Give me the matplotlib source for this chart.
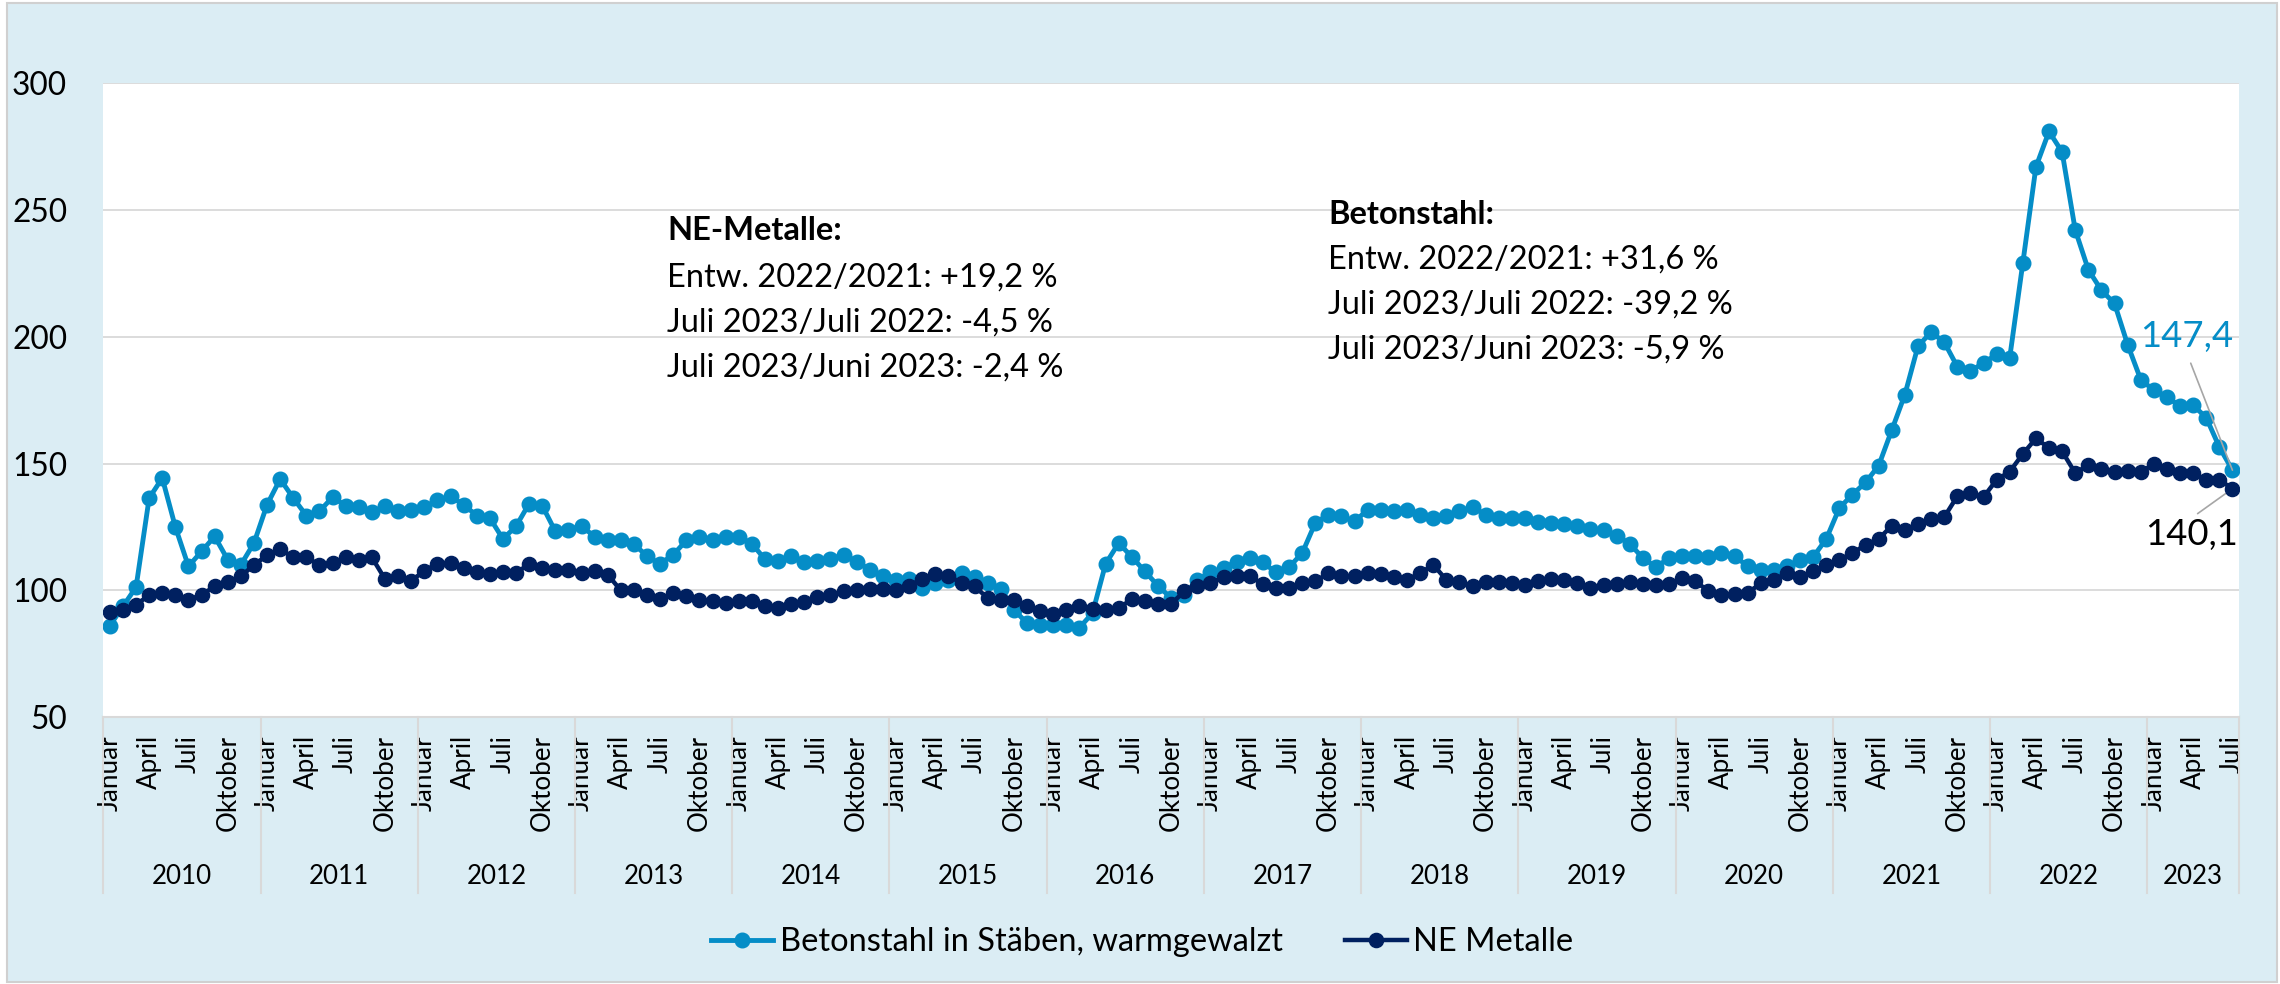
import numpy as np
import matplotlib
matplotlib.use("Agg")
import matplotlib.pyplot as plt
import matplotlib.transforms as mtransforms
from matplotlib.patches import Rectangle

plt.rcParams['font.family'] = ['Lato', 'DejaVu Sans']

# Monatswerte Januar 2010 bis Juli 2023
years = [str(y) for y in range(2010, 2024)]
month_names = ['Januar', 'April', 'Juli', 'Oktober']

betonstahl = [
    86.1, 93.7, 101.3, 136.4, 144.3, 125.0, 109.5, 115.4, 121.3, 112.1, 110.1, 118.7,   # 2010
    133.8, 143.9, 136.4, 129.5, 131.2, 136.8, 133.4, 132.9, 130.8, 133.2, 131.2, 131.8,  # 2011
    132.7, 135.6, 137.1, 133.8, 129.5, 128.6, 120.3, 125.3, 134.2, 133.4, 123.3, 123.9,  # 2012
    125.5, 121.1, 120.0, 120.0, 118.4, 113.4, 110.5, 114.1, 119.7, 121.1, 120.0, 121.1,  # 2013
    121.2, 118.4, 112.3, 111.8, 113.4, 111.1, 111.7, 112.4, 114.1, 111.4, 108.2, 105.5,  # 2014
    104.2, 104.6, 100.9, 102.9, 104.2, 106.8, 105.3, 102.9, 100.5, 92.4, 87.1, 86.4,     # 2015
    86.4, 86.2, 85.3, 91.1, 110.5, 118.7, 113.2, 107.5, 101.8, 97.0, 98.3, 104.2,        # 2016
    107.1, 108.8, 111.4, 112.8, 111.1, 107.1, 109.2, 114.7, 126.6, 129.9, 129.2, 127.2,  # 2017
    131.8, 131.8, 131.5, 131.6, 129.9, 128.6, 129.5, 131.2, 132.9, 129.9, 128.6, 128.6,  # 2018
    128.6, 126.8, 126.6, 126.3, 125.5, 124.2, 123.7, 121.6, 118.4, 112.8, 109.2, 112.8,  # 2019
    113.7, 113.7, 113.3, 114.7, 113.4, 109.7, 108.2, 107.9, 109.5, 112.1, 113.2, 120.3,  # 2020
    132.5, 137.8, 142.6, 149.2, 163.2, 177.2, 196.3, 201.8, 197.9, 188.2, 186.4, 189.7,  # 2021
    193.0, 191.7, 229.0, 266.9, 280.9, 272.8, 242.1, 226.4, 218.3, 213.1, 196.9, 183.1,  # 2022
    178.9, 176.1, 172.8, 173.0, 168.1, 156.5, 147.4,                                     # 2023
]

ne_metalle = [
    91.4, 92.4, 94.2, 98.3, 98.9, 98.3, 96.3, 98.3, 101.6, 103.2, 105.5, 110.1,          # 2010
    113.8, 116.3, 113.0, 113.0, 110.1, 110.8, 113.0, 112.1, 113.0, 104.5, 105.5, 103.8,  # 2011
    107.7, 110.6, 110.8, 108.8, 107.1, 106.6, 107.1, 106.8, 110.5, 108.8, 107.9, 108.2,  # 2012
    106.8, 107.5, 106.2, 100.0, 100.3, 98.3, 96.6, 98.9, 97.9, 96.3, 95.7, 95.0,         # 2013
    95.9, 95.7, 93.7, 93.0, 94.7, 95.3, 97.6, 98.3, 99.6, 100.3, 100.5, 100.5,           # 2014
    100.0, 101.8, 104.6, 106.6, 105.8, 102.9, 101.6, 97.0, 96.3, 96.3, 93.7, 91.7,       # 2015
    90.8, 92.2, 93.9, 92.6, 92.4, 93.0, 96.6, 95.7, 94.7, 94.7, 99.6, 101.8,             # 2016
    102.9, 105.3, 105.5, 105.5, 102.6, 100.9, 100.9, 102.9, 103.6, 106.8, 105.5, 105.5,  # 2017
    106.8, 106.6, 105.4, 104.2, 106.8, 110.1, 104.2, 103.2, 101.8, 103.2, 103.2, 102.9,  # 2018
    102.2, 103.6, 104.5, 104.2, 102.9, 100.9, 102.2, 102.6, 103.2, 102.6, 102.2, 102.6,  # 2019
    104.9, 103.6, 99.8, 98.3, 98.7, 98.9, 102.9, 104.2, 106.8, 105.3, 107.5, 110.1,      # 2020
    112.1, 114.7, 118.0, 120.3, 125.5, 123.7, 126.3, 128.2, 128.9, 137.1, 138.3, 136.8,  # 2021
    143.6, 146.8, 153.8, 159.9, 156.2, 154.8, 146.3, 149.4, 148.0, 146.6, 147.1, 146.6,  # 2022
    149.9, 147.8, 146.3, 146.3, 143.5, 143.6, 140.1,                                     # 2023
]

label_beton = 'Betonstahl in Stäben, warmgewalzt'
label_ne = 'NE Metalle'

ne_title = 'NE-Metalle:'
ne_lines = ['Entw. 2022/2021: +19,2 %', 'Juli 2023/Juli 2022: -4,5 %', 'Juli 2023/Juni 2023: -2,4 %']
beton_title = 'Betonstahl:'
beton_lines = ['Entw. 2022/2021: +31,6 %', 'Juli 2023/Juli 2022: -39,2 %', 'Juli 2023/Juni 2023: -5,9 %']

C_LIGHT = '#058DC7'
C_DARK = '#002060'
C_BG = '#DBEDF4'
C_GRID = '#D9D9D9'

W, H = 2280, 984
fig = plt.figure(figsize=(W / 100, H / 100), dpi=100, facecolor='white')
fig.add_artist(Rectangle((7 / W, 2 / H), 2270 / W, 979 / H, transform=fig.transFigure,
                         facecolor=C_BG, edgecolor='#D0D0D0', lw=1.5, zorder=-5))

# Plotbereich
ax_left, ax_right, ax_top, ax_bottom = 103.3, 2239, 83, 717.3
ax = fig.add_axes([ax_left / W, 1 - ax_bottom / H, (ax_right - ax_left) / W, (ax_bottom - ax_top) / H])
ax.set_facecolor('white')

n = len(betonstahl)
x = np.arange(n)
ax.plot(x, betonstahl, color=C_LIGHT, lw=3.5, marker='o', ms=10.5, label=label_beton, zorder=3)
ax.plot(x, ne_metalle, color=C_DARK, lw=3.2, marker='o', ms=10.2, label=label_ne, zorder=4)

ax.set_xlim(-0.5, n - 0.5)
ax.set_ylim(50, 300)
ax.set_yticks(range(50, 301, 50))
ax.grid(axis='y', color=C_GRID, lw=1.3, zorder=0)
ax.set_axisbelow(True)
for side in ['top', 'left', 'right']:
    ax.spines[side].set_visible(False)
ax.spines['bottom'].set_color(C_GRID)
ax.spines['bottom'].set_linewidth(1.5)
ax.tick_params(axis='y', length=0, pad=26, labelsize=22.8)

# Monatsbeschriftung
ticks = [i for i in range(n) if i % 3 == 0]
ax.set_xticks(ticks)
ax.set_xticklabels([month_names[(i % 12) // 3] for i in ticks], rotation=90, fontsize=18.7)
ax.tick_params(axis='x', length=0, pad=13)

# Jahresgruppen mit Trennlinien
trans = mtransforms.blended_transform_factory(ax.transData, ax.transAxes)
ax_h = ax_bottom - ax_top
bounds = list(range(0, n, 12)) + [n]
for b in bounds:
    ax.plot([b - 0.5, b - 0.5], [0, -(893 - ax_bottom) / ax_h], transform=trans,
            color=C_GRID, lw=1.5, clip_on=False)
for k, yr in enumerate(years):
    start = bounds[k]
    end = bounds[k + 1] - 1
    ax.text((start + end) / 2, -(884 - ax_bottom) / ax_h, yr, transform=trans,
            ha='center', va='baseline', fontsize=18.7)

# Textkästen
fs_txt = 23.5
fig.text(667 / W, 1 - 240.5 / H, ne_title, fontsize=fs_txt, fontweight='bold', va='baseline')
for j, line in enumerate(ne_lines):
    fig.text(667 / W, 1 - (286.5 + 45 * j) / H, line, fontsize=fs_txt, va='baseline')
fig.text(1328 / W, 1 - 224.5 / H, beton_title, fontsize=fs_txt, fontweight='bold', va='baseline')
for j, line in enumerate(beton_lines):
    fig.text(1328 / W, 1 - (268.5 + 45 * j) / H, line, fontsize=fs_txt, va='baseline')

# Datenbeschriftungen letzter Monat
ax.annotate(f'{betonstahl[-1]:.1f}'.replace('.', ','), xy=(n - 1, betonstahl[-1]),
            xytext=(-33, 96.5), textcoords='offset points', ha='center', va='center',
            color=C_LIGHT, fontsize=26.3,
            arrowprops=dict(arrowstyle='-', color='#A6A6A6', lw=1.2, relpos=(0.5, 0),
                            shrinkA=6, shrinkB=0))
ax.annotate(f'{ne_metalle[-1]:.1f}'.replace('.', ','), xy=(n - 1, ne_metalle[-1]),
            xytext=(-29.5, -33), textcoords='offset points', ha='center', va='center',
            color='black', fontsize=26.3,
            arrowprops=dict(arrowstyle='-', color='#A6A6A6', lw=1.2, relpos=(0.5, 1),
                            shrinkA=2, shrinkB=0))

# Legende
fig.legend(loc='center', bbox_to_anchor=(0.501, 1 - 942 / H), ncol=2, frameon=False,
           fontsize=fs_txt, handlelength=1.9, handletextpad=0.2, columnspacing=1.9)

fig.savefig('out.png', dpi=100, facecolor=fig.get_facecolor())
